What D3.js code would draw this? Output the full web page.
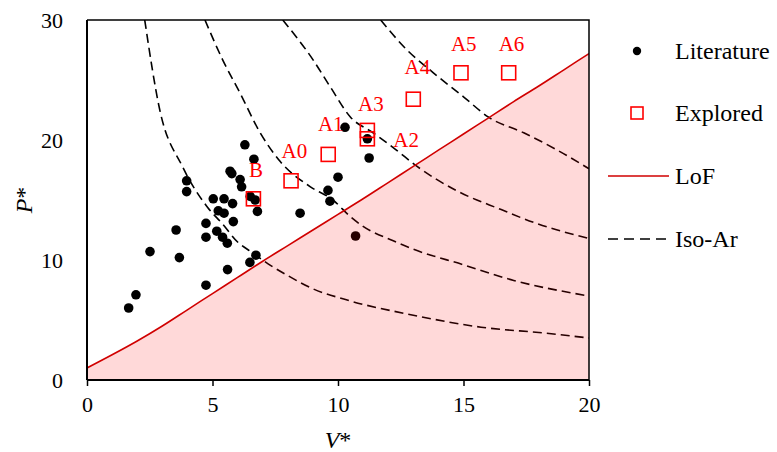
<!DOCTYPE html>
<html>
<head>
<meta charset="utf-8">
<script src="https://cdn.jsdelivr.net/npm/d3@7"></script>
<style>
  body { margin: 0; background: #fff; }
  svg text { font-family: "Liberation Serif", "Times New Roman", serif; }
</style>
</head>
<body>
<div id="app"></div>
<script>
// ====
// data
// ====
var xTicks = [0, 5, 10, 15, 20];
var yTicks = [0, 10, 20, 30];

// literature points [V*, P*]
var literature = [
  [1.66, 6.0], [1.95, 7.1], [2.51, 10.7], [3.55, 12.5], [3.68, 10.2],
  [3.97, 16.6], [3.97, 15.7], [4.74, 13.05], [4.74, 11.9], [4.74, 7.9],
  [5.03, 15.1], [5.46, 15.1], [5.8, 14.7], [5.23, 14.1], [5.46, 13.9],
  [5.83, 13.2], [5.17, 12.4], [5.4, 11.9], [5.59, 11.4], [5.6, 9.2],
  [5.7, 17.4], [5.77, 17.2], [6.29, 19.6], [6.65, 18.4], [6.1, 16.7],
  [6.16, 16.1], [6.5, 15.3], [6.7, 15.0], [6.79, 14.05], [6.73, 10.4],
  [6.49, 9.8], [8.49, 13.9], [9.6, 15.8], [9.68, 14.9], [10.0, 16.9],
  [10.28, 21.06], [11.17, 20.1], [11.24, 18.5], [10.7, 12.0]
];

// explored points
var exploredNames = ["B", "A0", "A1", "A2", "A3", "A4", "A5", "A6"];
var exploredV = [6.63, 8.13, 9.61, 11.17, 11.17, 13.0, 14.9, 16.8];
var exploredP = [15.1, 16.6, 18.8, 20.1, 20.8, 23.4, 25.6, 25.6];
// label anchor (left, baseline) in data units
var labelV = [6.45, 7.75, 9.2, 12.2, 10.8, 12.65, 14.5, 16.4];
var labelP = [16.9, 18.5, 20.75, 19.4, 22.45, 25.5, 27.45, 27.45];

// limit of feasibility
var lofV = [0, 1, 2, 3, 4, 5, 6, 7, 8, 9, 10, 11, 12, 13, 14, 15, 16, 17, 18, 19, 20];
var lofP = [1.0, 2.1, 3.25, 4.5, 5.85, 7.2, 8.55, 9.9, 11.2, 12.5, 13.8, 15.1, 16.45, 17.8, 19.15, 20.5, 21.85, 23.2, 24.5, 25.85, 27.2];

// iso-Ar curves
var iso1 = [[2.3, 30], [2.9, 22.5], [3.8, 17.8], [4.8, 14.4], [5.4, 13.0], [6.0, 11.5], [6.6, 10.6],
  [7.2, 9.7], [8.0, 8.7], [9.0, 7.6], [10.3, 6.7], [13.0, 5.4], [15.7, 4.4], [18.3, 3.9], [20, 3.5]];
var iso2 = [[4.7, 30], [5.4, 26.7], [6.1, 23.9], [6.9, 20.6], [7.7, 18.2], [8.9, 16.1], [9.8, 15.0],
  [10.5, 13.6], [11.0, 12.8], [12.2, 11.6], [13.0, 10.9], [15.0, 9.6], [17.0, 8.3], [20, 7.0]];
var iso3 = [[7.8, 30], [9.0, 26.7], [9.7, 24.4], [10.5, 21.9], [11.4, 20.6], [12.3, 19.2], [13.15, 17.8],
  [14.7, 15.8], [16.5, 14.2], [17.9, 13.05], [20, 11.8]];
var iso4 = [[11.7, 30], [12.75, 27.5], [13.8, 25.6], [15.0, 23.6], [16.0, 21.9], [17.4, 20.6], [18.7, 19.2], [20, 17.6]];
var isoCurves = [iso1, iso2, iso3, iso4];

// ======
// chart
// ======
var width = 777, height = 452;
var plotLeft = 87, plotRight = 589, plotTop = 20, plotBottom = 380;

var svg = d3.select("#app").append("svg")
  .attr("width", width)
  .attr("height", height);

var x = d3.scaleLinear().domain([0, 20]).range([plotLeft, plotRight]);
var y = d3.scaleLinear().domain([0, 30]).range([plotBottom, plotTop]);

svg.append("clipPath").attr("id", "plot")
  .append("rect")
  .attr("x", plotLeft).attr("y", plotTop)
  .attr("width", plotRight - plotLeft).attr("height", plotBottom - plotTop);

var plot = svg.append("g").attr("clip-path", "url(#plot)");

// iso-Ar dashed
var isoLine = d3.line()
  .x(function(d) { return x(d[0]); })
  .y(function(d) { return y(d[1]); })
  .curve(d3.curveMonotoneX);

plot.selectAll(".iso")
  .data(isoCurves)
  .enter()
  .append("path")
  .attr("class", "iso")
  .attr("d", isoLine)
  .attr("fill", "none")
  .attr("stroke", "#000")
  .attr("stroke-width", 1.6)
  .attr("stroke-dasharray", "9,5");

// literature dots
plot.selectAll(".lit")
  .data(literature)
  .enter()
  .append("circle")
  .attr("class", "lit")
  .attr("cx", function(d) { return x(d[0]); })
  .attr("cy", function(d) { return y(d[1]); })
  .attr("r", 4.8)
  .attr("fill", "#000");

// infeasible region (translucent, on top)
var lof = lofV.map(function(v, i) { return [v, lofP[i]]; });

plot.append("path")
  .datum(lof)
  .attr("d", d3.area()
    .x(function(d) { return x(d[0]); })
    .y0(y(0))
    .y1(function(d) { return y(d[1]); })
    .curve(d3.curveMonotoneX))
  .attr("fill", "#ff0000")
  .attr("fill-opacity", 0.15);

plot.append("path")
  .datum(lof)
  .attr("d", d3.line()
    .x(function(d) { return x(d[0]); })
    .y(function(d) { return y(d[1]); })
    .curve(d3.curveMonotoneX))
  .attr("fill", "none")
  .attr("stroke", "#d00000")
  .attr("stroke-width", 1.6);

// explored squares
var sq = 14;
plot.selectAll(".exp")
  .data(exploredNames)
  .enter()
  .append("rect")
  .attr("class", "exp")
  .attr("x", function(d, i) { return x(exploredV[i]) - sq / 2; })
  .attr("y", function(d, i) { return y(exploredP[i]) - sq / 2; })
  .attr("width", sq)
  .attr("height", sq)
  .attr("fill", "none")
  .attr("stroke", "#ff0000")
  .attr("stroke-width", 1.6);

svg.selectAll(".lbl")
  .data(exploredNames)
  .enter()
  .append("text")
  .attr("class", "lbl")
  .attr("x", function(d, i) { return x(labelV[i]); })
  .attr("y", function(d, i) { return y(labelP[i]); })
  .attr("fill", "#ff0000")
  .attr("font-size", 21)
  .text(function(d) { return d; });

// frame
svg.append("path")
  .attr("d", "M" + plotLeft + "," + plotTop + "H" + plotRight + "V" + plotBottom)
  .attr("fill", "none")
  .attr("stroke", "#000")
  .attr("stroke-width", 1.5);

// axes
var xAxis = svg.append("g")
  .attr("transform", "translate(0," + plotBottom + ")")
  .call(d3.axisBottom(x).tickValues(xTicks).tickSize(6).tickPadding(10));
var yAxis = svg.append("g")
  .attr("transform", "translate(" + plotLeft + ",0)")
  .call(d3.axisLeft(y).tickValues(yTicks).tickSize(0).tickPadding(24));

[xAxis, yAxis].forEach(function(a) {
  a.select(".domain").attr("stroke", "#000").attr("stroke-width", 2);
  a.selectAll(".tick line").attr("stroke", "#000").attr("stroke-width", 1.5);
  a.selectAll("text")
    .attr("fill", "#000")
    .attr("font-size", 22)
    .attr("font-family", "Liberation Serif, serif");
});
xAxis.select(".domain").attr("d", "M" + plotLeft + ",0H" + plotRight);
yAxis.select(".domain").attr("d", "M0," + plotBottom + "V" + plotTop);

// axis titles
var xt = svg.append("text")
  .attr("x", x(10))
  .attr("y", 448)
  .attr("text-anchor", "middle")
  .attr("font-size", 24);
xt.append("tspan").attr("font-style", "italic").text("V");
xt.append("tspan").text("*");

var yt = svg.append("text")
  .attr("transform", "translate(32," + y(15) + ") rotate(-90)")
  .attr("text-anchor", "middle")
  .attr("font-size", 24);
yt.append("tspan").attr("font-style", "italic").text("P");
yt.append("tspan").text("*");

// legend
var lg = svg.append("g");
var lx0 = 608, lx1 = 669, ltx = 675;
var legendY = [51, 113, 176, 239];
var legendText = ["Literature", "Explored", "LoF", "Iso-Ar"];

lg.append("circle").attr("cx", 637).attr("cy", legendY[0]).attr("r", 4.2).attr("fill", "#000");
lg.append("rect")
  .attr("x", 637 - 6).attr("y", legendY[1] - 6)
  .attr("width", 12).attr("height", 12)
  .attr("fill", "none").attr("stroke", "#ff0000").attr("stroke-width", 1.6);
lg.append("line")
  .attr("x1", lx0).attr("x2", lx1).attr("y1", legendY[2]).attr("y2", legendY[2])
  .attr("stroke", "#d00000").attr("stroke-width", 1.6);
lg.append("line")
  .attr("x1", lx0).attr("x2", lx1).attr("y1", legendY[3]).attr("y2", legendY[3])
  .attr("stroke", "#000").attr("stroke-width", 1.6).attr("stroke-dasharray", "10,6");

lg.selectAll("text")
  .data(legendText)
  .enter()
  .append("text")
  .attr("x", ltx)
  .attr("y", function(d, i) { return legendY[i] + 8; })
  .attr("font-size", 24)
  .attr("fill", "#000")
  .text(function(d) { return d; });
</script>
</body>
</html>
